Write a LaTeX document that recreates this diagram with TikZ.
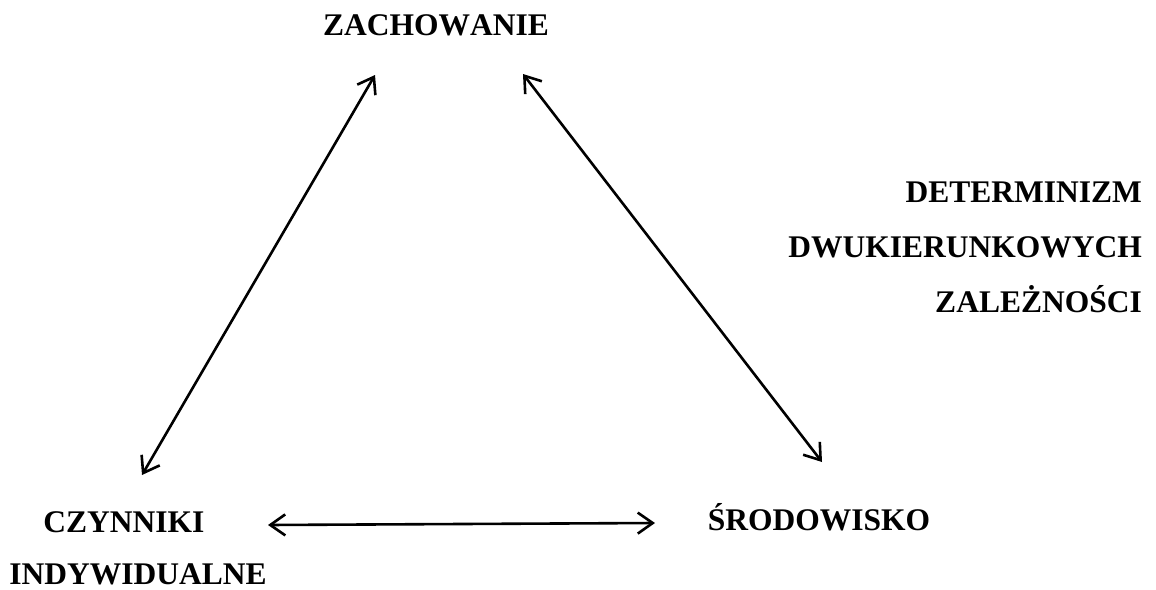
\documentclass[tikz,border=0pt]{standalone}
\usepackage{fontspec}
\setmainfont[Kerning=Off]{Liberation Serif}
\usetikzlibrary{arrows.meta}
\begin{document}
\begin{tikzpicture}[x=1pt,y=-1pt,
  label/.style={font=\fontsize{31.5}{38}\selectfont\bfseries, inner sep=0pt, anchor=base},
  rlabel/.style={label, anchor=base east},
  barb/.tip={Straight Barb[length=15pt,width=21pt,line width=2.6pt]},
  link/.style={line width=2.6pt, barb-barb}]
  \useasboundingbox (0,0) rectangle (1156,589);
  % labels
  \node[label] (zach) at (436,35) {ZACHOWANIE};
  \node[rlabel] (det1) at (1142,202) {DETERMINIZM};
  \node[rlabel] (det2) at (1142,257) {DWUKIERUNKOWYCH};
  \node[rlabel] (det3) at (1142,312) {ZALEŻNOŚCI};
  \node[label] (czyn1) at (124,532) {CZYNNIKI};
  \node[label] (czyn2) at (138,584) {INDYWIDUALNE};
  \node[label] (srod) at (819,530) {ŚRODOWISKO};
  % arrow end points
  \coordinate (zl) at (375,75);
  \coordinate (zr) at (523,74);
  \coordinate (cz) at (142,475);
  \coordinate (sr) at (822,462);
  \coordinate (bl) at (268,525);
  \coordinate (br) at (655,523);
  % two-way links
  \draw[link] (cz) -- (zl);
  \draw[link] (zr) -- (sr);
  \draw[link] (bl) -- (br);
\end{tikzpicture}
\end{document}
